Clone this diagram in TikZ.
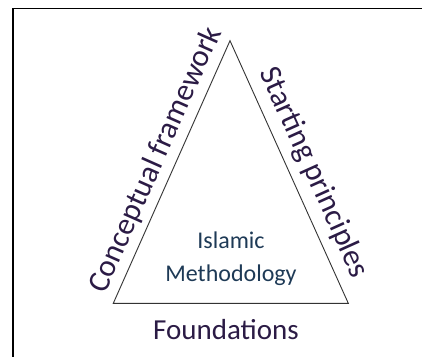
\documentclass[tikz,border=0pt]{standalone}
\usepackage{fontspec}
\setmainfont{Carlito}
\usetikzlibrary{calc}
\definecolor{edgetxt}{HTML}{2B1B45}
\definecolor{midtxt}{HTML}{1E3A56}
\begin{document}
\begin{tikzpicture}[x=1pt,y=1pt,
  sidelabel/.style={text=edgetxt,font=\fontsize{31}{37}\selectfont,inner sep=0pt,anchor=base},
  baselabel/.style={text=edgetxt,font=\fontsize{29}{35}\selectfont,inner sep=0pt,anchor=base},
  midlabel/.style={text=midtxt,font=\fontsize{24}{30}\selectfont,inner sep=0pt,anchor=base},
  tri/.style={draw=black!80,line width=0.9pt,line join=miter}]
\useasboundingbox (0,0) rectangle (422,356);
\begin{scope}
\clip (0,0) rectangle (422,356);
\draw[line width=1.6pt] (13,-20) |- (440,347.5);
\end{scope}
\coordinate (apex) at (230,315.3);
\coordinate (bl) at (113.3,52.7);
\coordinate (br) at (348.3,52.7);
\draw[tri] (apex) -- (bl) -- (br) -- cycle;
\coordinate (ml) at ($(bl)!0.5!(apex)!4.5pt!(apex)$);
\coordinate (mr) at ($(apex)!0.5!(br)!11pt!(br)$);
\node[sidelabel,rotate=66.04] (cf) at ($(ml)!11pt!90:(apex)$) {Conceptual framework};
\node[sidelabel,rotate=-65.75] (sp) at ($(mr)!14pt!90:(br)$) {Starting principles};
\node[baselabel] (fd) at (226,17) {Foundations};
\node[midlabel] (isl) at (231,107.7) {Islamic};
\node[midlabel] (meth) at (231,74.3) {Methodology};
\end{tikzpicture}
\end{document}
